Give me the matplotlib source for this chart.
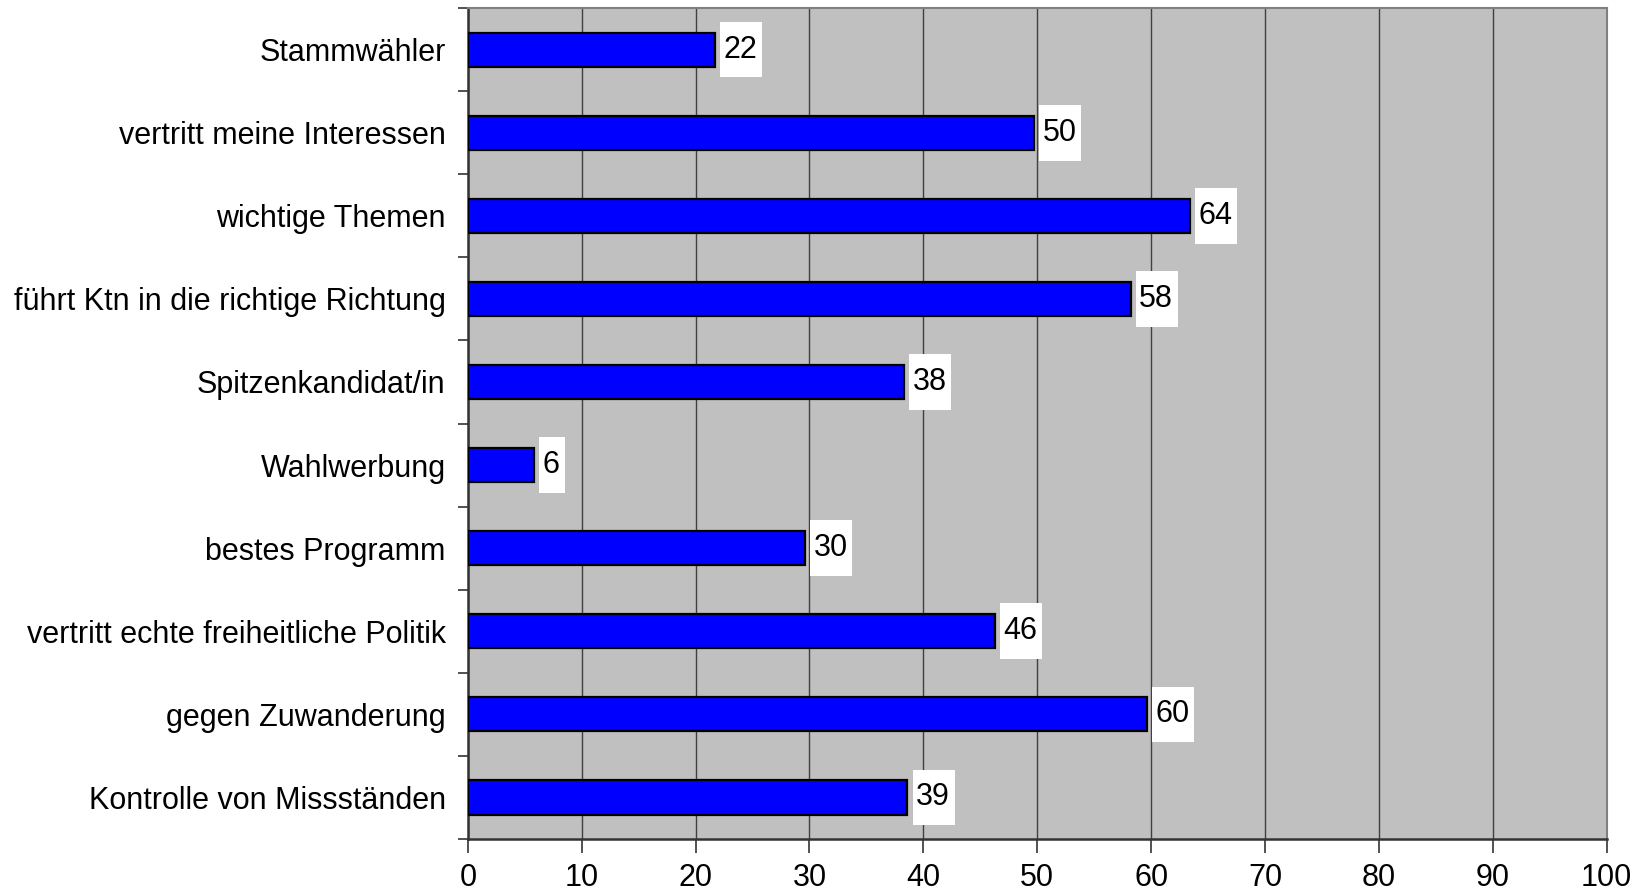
import matplotlib.pyplot as plt
import numpy as np

categories = ['Stammwähler', 'vertritt meine Interessen', 'wichtige Themen',
              'führt Ktn in die richtige Richtung', 'Spitzenkandidat/in', 'Wahlwerbung',
              'bestes Programm', 'vertritt echte freiheitliche Politik',
              'gegen Zuwanderung', 'Kontrolle von Missständen']
values = [21.7, 49.7, 63.4, 58.2, 38.3, 5.8, 29.6, 46.3, 59.6, 38.6]
labels = ['22', '50', '64', '58', '38', '6', '30', '46', '60', '39']
xticks = np.arange(0, 101, 10)

plt.rcParams['font.family'] = ['Liberation Sans', 'DejaVu Sans']
fs = 22

fig = plt.figure(figsize=(16.36, 8.96), dpi=100)
ax = fig.add_axes([0.286, 0.0636, 0.696, 0.9274])
ax.set_facecolor('#c0c0c0')

y = np.arange(len(categories))
ax.barh(y, values, height=0.41, color='#0000ff', edgecolor='black', linewidth=1.6, zorder=3)

# white label boxes next to the bar ends
vals = np.array(values)
box_w = np.array([0.9 + 1.4 * len(s) for s in labels])
box_left = vals + 0.45
ax.barh(y, box_w, left=box_left, height=0.67, color='white', linewidth=0, zorder=2)
for yi, x0, s in zip(y, box_left, labels):
    ax.text(x0 + 0.3, yi, s, va='center', ha='left', fontsize=fs, zorder=4)

ax.set_xlim(0, 100)
ax.set_ylim(len(categories) - 0.5, -0.5)
ax.set_xticks(xticks)
ax.set_xticklabels([str(t) for t in xticks], fontsize=fs)
ax.set_yticks(y)
ax.set_yticklabels(categories, fontsize=fs)
ax.tick_params(axis='y', length=0, pad=16)
ax.set_yticks(np.arange(len(categories) + 1) - 0.5, minor=True)
ax.tick_params(axis='y', which='minor', length=7, width=1.2, color='#333333')
ax.tick_params(axis='x', length=10, width=1.2, color='#333333', pad=7)

ax.grid(axis='x', color='#404040', linewidth=1, zorder=1)
ax.set_axisbelow(True)
for side in ['left', 'bottom']:
    ax.spines[side].set_color('#333333')
    ax.spines[side].set_linewidth(1.8)
for side in ['top', 'right']:
    ax.spines[side].set_color('#808080')
    ax.spines[side].set_linewidth(1.5)

plt.savefig('out.png', dpi=100)
